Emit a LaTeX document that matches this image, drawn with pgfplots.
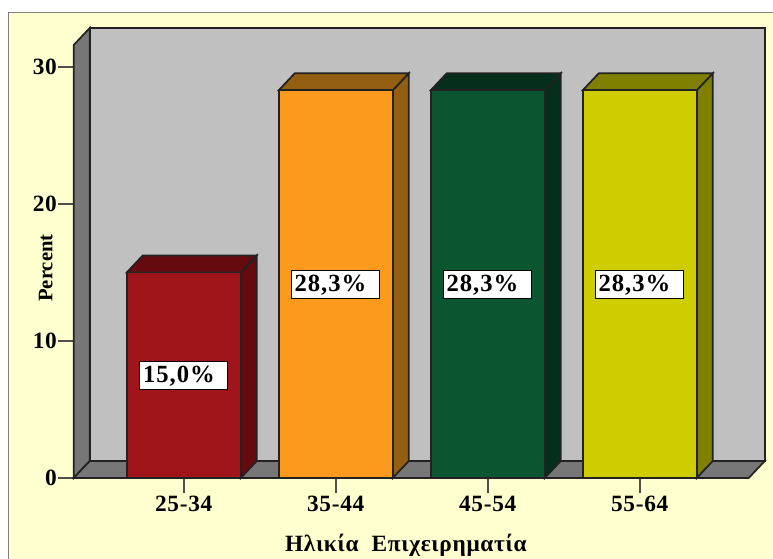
\documentclass[border=0pt]{standalone}
\usepackage{pgfplots}
\pgfplotsset{compat=1.18}
\usepackage{fontspec}
\setmainfont{Liberation Serif}
\newfontfamily\widefont[LetterSpace=3]{Liberation Serif}
\newfontfamily\widerfont[LetterSpace=4]{Liberation Serif}
\definecolor{pagey}{HTML}{FFFFCF}
\definecolor{wall}{HTML}{C0C0C0}
\definecolor{side}{HTML}{777777}
\definecolor{redF}{HTML}{A0151A}\definecolor{redD}{HTML}{650B10}
\definecolor{orgF}{HTML}{FC9A1E}\definecolor{orgD}{HTML}{945F10}
\definecolor{grnF}{HTML}{0B5530}\definecolor{grnD}{HTML}{052F1C}
\definecolor{yelF}{HTML}{CDCD00}\definecolor{yelD}{HTML}{7F7F00}
\definecolor{ink}{HTML}{222222}
\begin{document}
\begin{tikzpicture}[x=1pt,y=1pt]
\useasboundingbox (0,0) rectangle (579.75,419.25);
\fill[white] (0,0) rectangle (579.75,419.25);
\fill[pagey] (6.4,0) rectangle (579.75,410);
\draw[gray,line width=1.2pt] (6.4,0) -- (6.4,410) -- (579.75,410);
\begin{axis}[
  at={(55.3pt,60.75pt)}, anchor=south west,
  scale only axis, width=506.25pt, height=324.75pt,
  clip=false,
  xmin=-0.7237, xmax=3.7171, ymin=0, ymax=31.606,
  axis lines=left, axis line style={-,draw=ink,line width=1.3pt},
  tick align=outside, tick pos=lower,
  xtick={0,1,2,3}, xticklabels={25-34,35-44,45-54,55-64},
  ytick={0,10,20,30},
  minor tick num=0,
  major tick length=11.5pt,
  tick style={draw=ink!80,line width=1.2pt},
  /pgf/number format/assume math mode=true,
  tick label style={font=\fontsize{17.5}{19}\widefont\bfseries,inner sep=1pt},
  xticklabel style={yshift=-1pt},
  xlabel={Ηλικία\ \ Επιχειρηματία},
  ylabel={Percent},
  xlabel style={at={(axis description cs:0.492,-0.155)},anchor=center,inner sep=0pt,font=\fontsize{17.5}{19}\widefont\bfseries},
  ylabel style={at={(axis description cs:-0.0415,0.485)},anchor=center,font=\fontsize{15.5}{18}\selectfont\bfseries},
  every axis plot/.append style={line width=1.3pt,draw=ink,no marks},
]
% walls
\addplot[fill=wall] coordinates {(-0.6184,1.241)(3.8224,1.241)(3.8224,32.847)(-0.6184,32.847)} -- cycle;
\addplot[fill=side] coordinates {(-0.7237,0)(-0.6184,1.241)(-0.6184,32.847)(-0.7237,31.606)} -- cycle;
\addplot[fill=side] coordinates {(-0.7237,0)(3.7171,0)(3.8224,1.241)(-0.6184,1.241)} -- cycle;
% bar 1
\addplot[fill=redD] coordinates {(0.375,0)(0.48026,1.241)(0.48026,16.241)(0.375,15)} -- cycle;
\addplot[fill=redD] coordinates {(-0.375,15)(0.375,15)(0.48026,16.241)(-0.26974,16.241)} -- cycle;
\addplot[ybar,bar width=0.75,bar shift=0pt,fill=redF] coordinates {(0,15.0)};
% bar 2
\addplot[fill=orgD] coordinates {(1.375,0)(1.48026,1.241)(1.48026,29.541)(1.375,28.3)} -- cycle;
\addplot[fill=orgD] coordinates {(0.625,28.3)(1.375,28.3)(1.48026,29.541)(0.73026,29.541)} -- cycle;
\addplot[ybar,bar width=0.75,bar shift=0pt,fill=orgF] coordinates {(1,28.3)};
% bar 3
\addplot[fill=grnD] coordinates {(2.375,0)(2.48026,1.241)(2.48026,29.541)(2.375,28.3)} -- cycle;
\addplot[fill=grnD] coordinates {(1.625,28.3)(2.375,28.3)(2.48026,29.541)(1.73026,29.541)} -- cycle;
\addplot[ybar,bar width=0.75,bar shift=0pt,fill=grnF] coordinates {(2,28.3)};
% bar 4
\addplot[fill=yelD] coordinates {(3.375,0)(3.48026,1.241)(3.48026,29.541)(3.375,28.3)} -- cycle;
\addplot[fill=yelD] coordinates {(2.625,28.3)(3.375,28.3)(3.48026,29.541)(2.73026,29.541)} -- cycle;
\addplot[ybar,bar width=0.75,bar shift=0pt,fill=yelF] coordinates {(3,28.3)};
% labels
\tikzset{vl/.style={draw=black,fill=white,line width=0.8pt,minimum width=66pt,minimum height=21pt,inner sep=0pt,font=\fontsize{18.5}{20}\widerfont\bfseries}}
\node[vl] at (axis cs:0,7.45) {\makebox[66pt][l]{\hspace{2.5pt}\raisebox{-0.8pt}{15,0\%}}};
\node[vl] at (axis cs:0.997,14.1) {\makebox[66pt][l]{\hspace{2.5pt}\raisebox{-0.8pt}{28,3\%}}};
\node[vl] at (axis cs:1.997,14.1) {\makebox[66pt][l]{\hspace{2.5pt}\raisebox{-0.8pt}{28,3\%}}};
\node[vl] at (axis cs:2.997,14.1) {\makebox[66pt][l]{\hspace{2.5pt}\raisebox{-0.8pt}{28,3\%}}};
\end{axis}
\end{tikzpicture}
\end{document}
